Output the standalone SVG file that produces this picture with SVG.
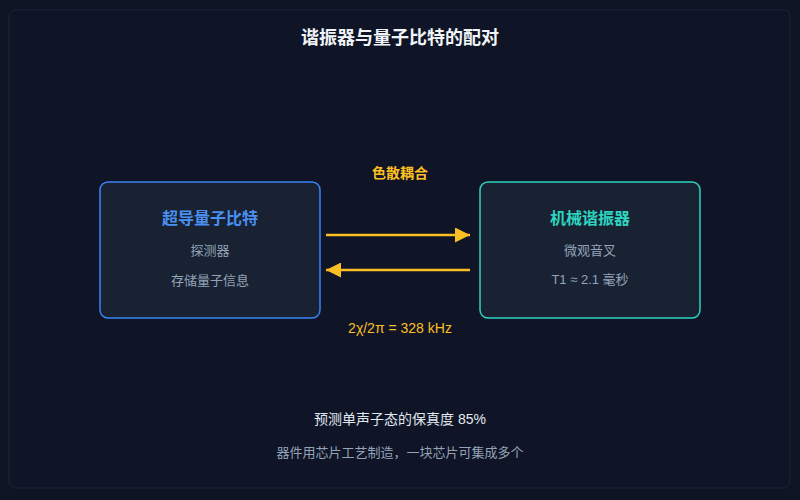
<svg xmlns="http://www.w3.org/2000/svg" width="800" height="500" viewBox="0 0 800 500">
<style>
text{font-family:"Liberation Sans","Noto Sans CJK SC",sans-serif;text-anchor:middle}
.t{font-size:18px;font-weight:700;fill:#f1f5f9}
.nt{font-size:16px;font-weight:700}
.s{font-size:13px;fill:#94a3b8}
.y{fill:#fbbf24;font-size:14px}
.c{stroke:#fbbf24;stroke-width:2.5;fill:none}
</style>
<defs>
<marker id="ah" viewBox="0 0 10 10" refX="10" refY="5" markerWidth="7" markerHeight="6" orient="auto" markerUnits="strokeWidth">
<path d="M0,0L10,5L0,10z" fill="#fbbf24"/>
</marker>
</defs>
<rect width="800" height="500" fill="#0f1424"/>
<rect x="9" y="10" width="781" height="478" rx="6" fill="#0f1526" stroke="#1c2436" stroke-width="1"/>
<text class="t" x="400" y="44">谐振器与量子比特的配对</text>
<g id="qubit">
<rect x="100" y="182" width="220" height="136" rx="8" fill="#182232" stroke="#3b82f6" stroke-width="1.5"/>
<text class="nt" x="210" y="224" fill="#4a90f0">超导量子比特</text>
<text class="s" x="210" y="255">探测器</text>
<text class="s" x="210" y="285">存储量子信息</text>
</g>
<g id="resonator">
<rect x="480" y="182" width="220" height="136" rx="8" fill="#182232" stroke="#2dd4bf" stroke-width="1.5"/>
<text class="nt" x="590" y="224" fill="#2dd4bf">机械谐振器</text>
<text class="s" x="590" y="255">微观音叉</text>
<text class="s" x="590" y="284">T1 ≈ 2.1 毫秒</text>
</g>
<g id="connectors">
<line class="c" x1="326" y1="235" x2="470" y2="235" marker-end="url(#ah)"/>
<line class="c" x1="470" y1="270" x2="326" y2="270" marker-end="url(#ah)"/>
<text class="y" x="400" y="178" font-weight="700">色散耦合</text>
<text class="y" x="400" y="333">2χ/2π = 328 kHz</text>
</g>
<text x="400" y="424" font-size="14" fill="#e2e8f0">预测单声子态的保真度 85%</text>
<text class="s" x="400" y="457">器件用芯片工艺制造，一块芯片可集成多个</text>
</svg>
